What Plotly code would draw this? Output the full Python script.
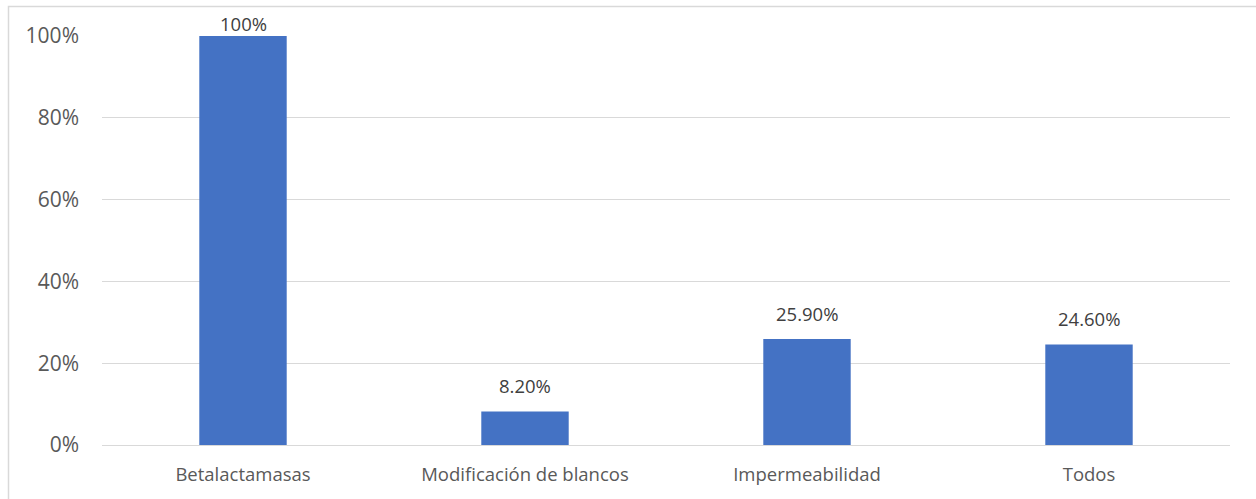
import plotly.graph_objects as go

categories = ["Betalactamasas", "Modificación de blancos", "Impermeabilidad", "Todos"]
values = [1.00, 0.082, 0.259, 0.246]
labels = ["100%", "8.20%", "25.90%", "24.60%"]
tick_vals = [0, 0.2, 0.4, 0.6, 0.8, 1.0]
tick_text = ["0%", "20%", "40%", "60%", "80%", "100%"]
label_shift = [-2, 11, 11, 11]

W, H = 1256, 499
L, R, T, B = 102, 26, 36, 54
FONT = "Open Sans"

fig = go.Figure(go.Bar(
    x=categories, y=values,
    marker=dict(color="#4472C4", line=dict(width=0)),
    width=0.31, cliponaxis=False,
))

for c, v, t, s in zip(categories, values, labels, label_shift):
    fig.add_annotation(x=c, y=v, text=t, showarrow=False, yanchor="bottom",
                       yshift=s, font=dict(size=18.5, color="#404040", family=FONT))

pw, ph = W - L - R, H - T - B
fig.add_shape(type="rect", xref="paper", yref="paper",
              x0=(8.5 - L) / pw, x1=1.2, y0=-0.3, y1=(H - B - 6.5) / ph,
              line=dict(color="#d9d9d9", width=1.5), layer="below")

fig.update_layout(
    width=W, height=H,
    margin=dict(l=L, r=R, t=T, b=B),
    paper_bgcolor="white", plot_bgcolor="white",
    font=dict(family=FONT, color="#595959"),
    showlegend=False,
    xaxis=dict(showgrid=False, showline=False, ticks="", ticklabelstandoff=16,
               tickfont=dict(size=18.5, color="#595959", family=FONT)),
    yaxis=dict(range=[0, 1.0], tickvals=tick_vals, ticktext=tick_text,
               showgrid=True, gridcolor="#d9d9d9", gridwidth=1,
               zeroline=True, zerolinecolor="#d9d9d9", zerolinewidth=1,
               showline=False, ticks="", ticklabelstandoff=22,
               tickfont=dict(size=21, color="#595959", family=FONT)),
)

fig.write_html("out.html")
